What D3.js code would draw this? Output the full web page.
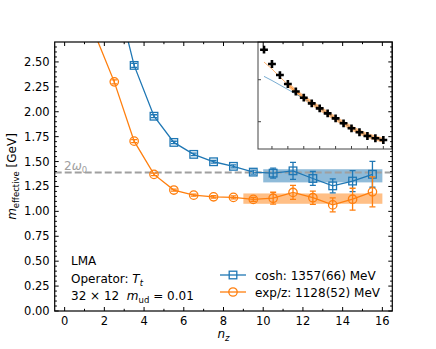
<!DOCTYPE html>
<html>
<head>
<meta charset="utf-8">
<script src="https://cdn.jsdelivr.net/npm/d3@7"></script>
<style>
  body { margin: 0; background: #fff; }
  text { font-family: "DejaVu Sans", sans-serif; white-space: pre; }
</style>
</head>
<body>
<svg id="chart" width="436" height="349"></svg>
<script>
// ---- data ----
var coshNz = [2.5, 3.5, 4.5, 5.5, 6.5, 7.5, 8.5, 9.5, 10.5, 11.5, 12.5, 13.5, 14.5, 15.5];
var coshM = [3.27, 2.465, 1.955, 1.692, 1.572, 1.498, 1.452, 1.394, 1.384, 1.407, 1.330, 1.256, 1.304, 1.372];
var coshErr = [0.03, 0.02, 0.015, 0.012, 0.012, 0.013, 0.015, 0.02, 0.05, 0.085, 0.07, 0.07, 0.105, 0.13];

var expNz = [1.5, 2.5, 3.5, 4.5, 5.5, 6.5, 7.5, 8.5, 9.5, 10.5, 11.5, 12.5, 13.5, 14.5, 15.5];
var expM = [2.79, 2.30, 1.705, 1.371, 1.214, 1.163, 1.146, 1.14, 1.12, 1.132, 1.19, 1.137, 1.065, 1.122, 1.196];
var expErr = [0.03, 0.02, 0.015, 0.012, 0.01, 0.01, 0.012, 0.015, 0.02, 0.06, 0.07, 0.067, 0.07, 0.11, 0.15];

// fit bands: [from nz, to nz, value, error]
var coshFit = [10, 16, 1.357, 0.066];
var expFit = [9, 16, 1.128, 0.052];
var twoOmega0 = 1.39;

var legendLabels = ["cosh: 1357(66) MeV", "exp/z: 1128(52) MeV"];

var xTicks = [0, 2, 4, 6, 8, 10, 12, 14, 16];
var yTicks = [0, 0.25, 0.5, 0.75, 1.0, 1.25, 1.5, 1.75, 2.0, 2.25, 2.5];

// inset: correlator vs nz (log scale)
var insetNz = [1, 2, 3, 4, 5, 6, 7, 8, 9, 10, 11, 12, 13, 14, 15, 16];
var insetC = [0.518, 0.237, 0.129, 0.079, 0.0523, 0.0373, 0.0274, 0.0208, 0.0158, 0.0120,
              0.00916, 0.00697, 0.00560, 0.00457, 0.00403, 0.00366];
var insetExpFit = [0.264, 0.180, 0.116, 0.0769, 0.0523, 0.0377, 0.0279, 0.0208, 0.0157, 0.0119,
                   0.00916, 0.00708, 0.00569, 0.00469, 0.00409, 0.00361];
var insetCoshFit = [0.120, 0.0957, 0.0748, 0.0585, 0.0457, 0.0357, 0.0274, 0.0206, 0.0157, 0.0119,
                    0.00916, 0.00708, 0.00569, 0.00469, 0.00409, 0.00361];
var insetBandFrom = 4;
var insetBandFactor = 1.15;

var blue = "#1f77b4", orange = "#ff7f0e", grey = "#a0a0a0";

var svg = d3.select("#chart");
var plot = { left: 54.7, right: 392.3, top: 42, bottom: 311 };

var x = d3.scaleLinear().domain([-0.5, 16.5]).range([plot.left, plot.right]);
var y = d3.scaleLinear().domain([0, 2.7]).range([plot.bottom, plot.top]);

svg.append("clipPath").attr("id", "clip")
  .append("rect")
  .attr("x", plot.left).attr("y", plot.top)
  .attr("width", plot.right - plot.left).attr("height", plot.bottom - plot.top);

var g = svg.append("g").attr("clip-path", "url(#clip)");

// fit bands
function band(fit, color) {
  g.append("rect")
    .attr("x", x(fit[0]))
    .attr("width", x(fit[1]) - x(fit[0]))
    .attr("y", y(fit[2] + fit[3]))
    .attr("height", y(fit[2] - fit[3]) - y(fit[2] + fit[3]))
    .attr("fill", color)
    .attr("opacity", 0.5);
}
band(coshFit, blue);
band(expFit, orange);

// 2 omega_0 line
g.append("line")
  .attr("x1", plot.left).attr("x2", plot.right)
  .attr("y1", y(twoOmega0)).attr("y2", y(twoOmega0))
  .attr("stroke", grey).attr("stroke-width", 2)
  .attr("stroke-dasharray", "7,3");

svg.append("text")
  .attr("x", 64).attr("y", 170)
  .attr("fill", grey).style("font-size", "12px")
  .call(function (t) {
    t.append("tspan").text("2");
    t.append("tspan").style("font-style", "italic").text("ω");
    t.append("tspan").attr("dy", 3).style("font-size", "8.5px").text("0");
  });

function series(nz, m, err, color, shape) {
  var pts = nz.map(function (d, i) { return { n: d, m: m[i], e: err[i] }; });
  g.append("path")
    .datum(pts)
    .attr("fill", "none").attr("stroke", color).attr("stroke-width", 1.3)
    .attr("d", d3.line().x(function (d) { return x(d.n); }).y(function (d) { return y(d.m); }));
  var eb = g.append("g").attr("stroke", color).attr("stroke-width", 1.3);
  pts.forEach(function (d) {
    eb.append("line").attr("x1", x(d.n)).attr("x2", x(d.n))
      .attr("y1", y(d.m - d.e)).attr("y2", y(d.m + d.e));
    eb.append("line").attr("x1", x(d.n) - 3).attr("x2", x(d.n) + 3)
      .attr("y1", y(d.m - d.e)).attr("y2", y(d.m - d.e));
    eb.append("line").attr("x1", x(d.n) - 3).attr("x2", x(d.n) + 3)
      .attr("y1", y(d.m + d.e)).attr("y2", y(d.m + d.e));
  });
  drawMarkers(g, pts.map(function (d) { return [x(d.n), y(d.m)]; }), color, shape);
}

function drawMarkers(sel, xy, color, shape) {
  xy.forEach(function (p) {
    if (shape == "square") {
      sel.append("rect")
        .attr("x", p[0] - 3.8).attr("y", p[1] - 3.8)
        .attr("width", 7.6).attr("height", 7.6)
        .attr("fill", "none").attr("stroke", color).attr("stroke-width", 1.3);
    } else {
      sel.append("circle")
        .attr("cx", p[0]).attr("cy", p[1]).attr("r", 4.2)
        .attr("fill", "none").attr("stroke", color).attr("stroke-width", 1.3);
    }
  });
}

series(coshNz, coshM, coshErr, blue, "square");
series(expNz, expM, expErr, orange, "circle");

// ---- inset ----
var ins = { left: 258, right: 392, top: 42, bottom: 149 };
var ix = d3.scaleLinear().domain([0.245, 17.09]).range([ins.left, ins.right]);
var iy = d3.scaleLog().domain([Math.pow(10, -2.65), Math.pow(10, -0.102)]).range([ins.bottom, ins.top]);

var ig = svg.append("g");
ig.append("rect")
  .attr("x", ins.left).attr("y", ins.top)
  .attr("width", ins.right - ins.left).attr("height", ins.bottom - ins.top)
  .attr("fill", "#fff");

var bandPts = insetNz.map(function (d, i) { return { n: d, c: insetExpFit[i] }; })
  .filter(function (d) { return d.n >= insetBandFrom; });
ig.append("path")
  .datum(bandPts)
  .attr("fill", orange).attr("opacity", 0.5)
  .attr("d", d3.area()
    .x(function (d) { return ix(d.n); })
    .y0(function (d) { return iy(d.c / insetBandFactor); })
    .y1(function (d) { return iy(d.c * insetBandFactor); }));

ig.append("path")
  .datum(insetCoshFit)
  .attr("fill", "none").attr("stroke", blue).attr("stroke-width", 1).attr("opacity", 0.6)
  .attr("d", d3.line().x(function (d, i) { return ix(insetNz[i]); }).y(function (d) { return iy(d); }));
ig.append("path")
  .datum(insetExpFit)
  .attr("fill", "none").attr("stroke", orange).attr("stroke-width", 1).attr("opacity", 0.6)
  .attr("d", d3.line().x(function (d, i) { return ix(insetNz[i]); }).y(function (d) { return iy(d); }));

ig.selectAll(".ipt")
  .data(insetC)
  .enter().append("path")
  .attr("class", "ipt")
  .attr("transform", function (d, i) { return "translate(" + ix(insetNz[i]) + "," + iy(d) + ")"; })
  .attr("d", d3.symbol().type(d3.symbolCross).size(34))
  .attr("fill", "#000");

// inset ticks
[2, 4, 6, 8, 10, 12, 14, 16].forEach(function (t) {
  ig.append("line").attr("x1", ix(t)).attr("x2", ix(t))
    .attr("y1", ins.bottom).attr("y2", ins.bottom - 3)
    .attr("stroke", "#444").attr("stroke-width", 1);
});
[0.1, 0.01].forEach(function (t) {
  ig.append("line").attr("x1", ins.left).attr("x2", ins.left + 3)
    .attr("y1", iy(t)).attr("y2", iy(t))
    .attr("stroke", "#444").attr("stroke-width", 1);
});
ig.append("rect")
  .attr("x", ins.left).attr("y", ins.top)
  .attr("width", ins.right - ins.left).attr("height", ins.bottom - ins.top)
  .attr("fill", "none").attr("stroke", "#444").attr("stroke-width", 1);

// ---- main axes frame & ticks ----
var axg = svg.append("g").attr("stroke", "#000");
function tickLine(x1, y1, x2, y2, w) {
  axg.append("line").attr("x1", x1).attr("y1", y1).attr("x2", x2).attr("y2", y2)
    .attr("stroke-width", w || 1);
}
d3.range(0, 17, 1).forEach(function (v) {
  var len = v % 2 == 0 ? 4 : 2.2;
  tickLine(x(v), plot.bottom, x(v), plot.bottom - len);
  tickLine(x(v), plot.top, x(v), plot.top + len);
});
d3.range(0, 54).forEach(function (k) {
  var v = k * 0.05;
  var len = k % 5 == 0 ? 4 : 2.2;
  tickLine(plot.left, y(v), plot.left + len, y(v));
  tickLine(plot.right, y(v), plot.right - len, y(v));
});
axg.append("rect")
  .attr("x", plot.left).attr("y", plot.top)
  .attr("width", plot.right - plot.left).attr("height", plot.bottom - plot.top)
  .attr("fill", "none").attr("stroke-width", 1.2);

svg.selectAll(".xtl")
  .data(xTicks)
  .enter().append("text")
  .attr("class", "xtl")
  .attr("x", function (d) { return x(d); })
  .attr("y", plot.bottom + 14)
  .attr("text-anchor", "middle")
  .style("font-size", "11.5px")
  .text(function (d) { return d; });

svg.selectAll(".ytl")
  .data(yTicks)
  .enter().append("text")
  .attr("class", "ytl")
  .attr("x", plot.left - 5)
  .attr("y", function (d) { return y(d) + 4; })
  .attr("text-anchor", "end")
  .style("font-size", "11.5px")
  .text(function (d) { return d3.format(".2f")(d); });

// axis labels
svg.append("text")
  .attr("transform", "translate(" + 16 + "," + (plot.top + plot.bottom) / 2 + ") rotate(-90)")
  .attr("text-anchor", "middle")
  .style("font-size", "12px")
  .call(function (t) {
    t.append("tspan").style("font-style", "italic").text("m");
    t.append("tspan").attr("dy", 3).style("font-size", "8.5px").text("effective");
    t.append("tspan").attr("dy", -3).text(" [GeV]");
  });

svg.append("text")
  .attr("x", (plot.left + plot.right) / 2)
  .attr("y", 338)
  .attr("text-anchor", "middle")
  .style("font-size", "12px")
  .call(function (t) {
    t.append("tspan").style("font-style", "italic").text("n");
    t.append("tspan").attr("dy", 3).style("font-size", "8.5px").style("font-style", "italic").text("z");
  });

// annotation block
svg.append("text").attr("x", 71).attr("y", 265).style("font-size", "12px").text("LMA");
svg.append("text").attr("x", 71).attr("y", 282.5).style("font-size", "12px")
  .call(function (t) {
    t.append("tspan").text("Operator: ");
    t.append("tspan").style("font-style", "italic").text("T");
    t.append("tspan").attr("dy", 3).style("font-size", "8.5px").style("font-style", "italic").text("t");
  });
svg.append("text").attr("x", 71).attr("y", 300).style("font-size", "12px")
  .call(function (t) {
    t.append("tspan").text("32 × 12\u00a0\u00a0");
    t.append("tspan").style("font-style", "italic").text("m");
    t.append("tspan").attr("dy", 3).style("font-size", "8.5px").text("ud");
    t.append("tspan").attr("dy", -3).text(" = 0.01");
  });

// legend
var leg = svg.append("g");
[[blue, "square", 275], [orange, "circle", 292]].forEach(function (s, i) {
  leg.append("line")
    .attr("x1", 220).attr("x2", 246).attr("y1", s[2]).attr("y2", s[2])
    .attr("stroke", s[0]).attr("stroke-width", 1.3);
  drawMarkers(leg, [[233, s[2]]], s[0], s[1]);
  leg.append("text")
    .attr("x", 255).attr("y", s[2] + 4.5)
    .style("font-size", "12px")
    .text(legendLabels[i]);
});
</script>
</body>
</html>
